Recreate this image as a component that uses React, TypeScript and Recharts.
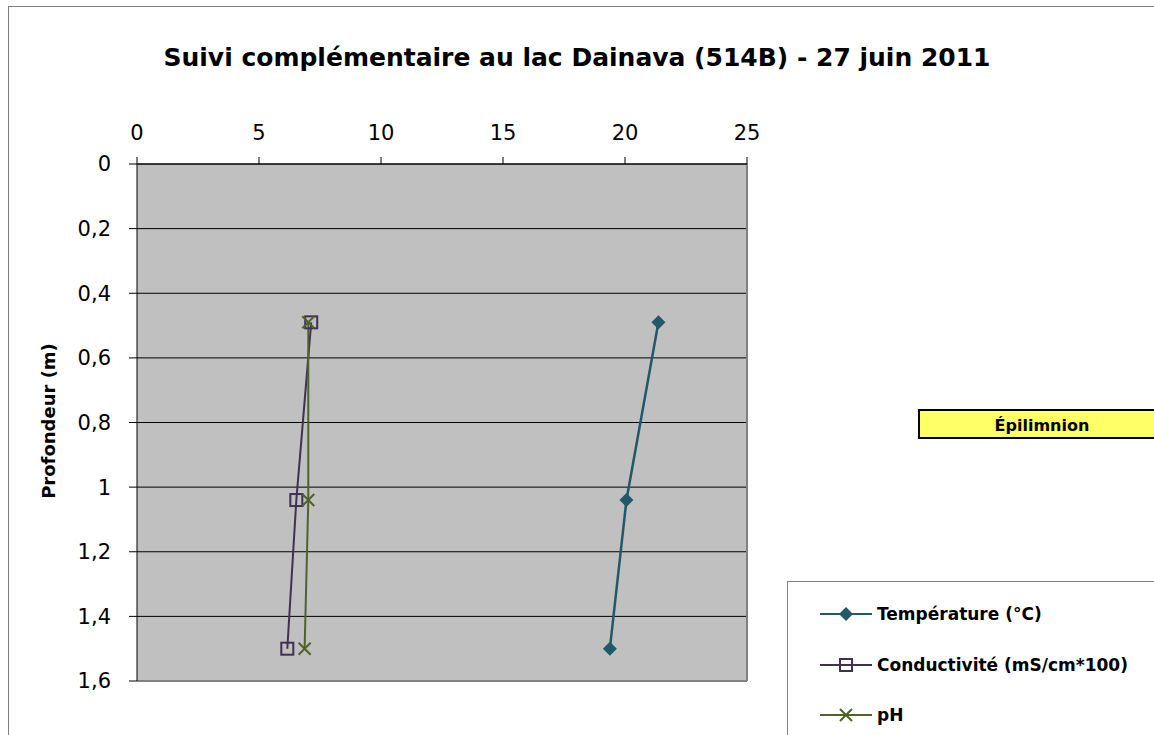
import { LineChart, Line, XAxis, YAxis, CartesianGrid, ReferenceLine } from "recharts"

// Profondeur (m) des mesures
const depths = [0.49, 1.04, 1.5]
// séries
const temperature = [21.37, 20.06, 19.38]
const conductivity = [7.14, 6.53, 6.16]
const ph = [7.02, 7.02, 6.87]
// graduations
const xTicks = [0, 5, 10, 15, 20, 25]
const yTicks = [0, 0.2, 0.4, 0.6, 0.8, 1, 1.2, 1.4, 1.6]

const data = depths.map((d, i) => ({
  depth: d,
  temp: temperature[i],
  cond: conductivity[i],
  ph: ph[i],
}))

const TEMP = "#215968"
const COND = "#403152"
const PH = "#4f6228"
const FONT = "'DejaVu Sans', sans-serif"

const Diamond = ({ cx, cy }: any) => (
  <path d={`M${cx},${cy - 7}L${cx + 7},${cy}L${cx},${cy + 7}L${cx - 7},${cy}Z`} fill={TEMP} />
)
const Square = ({ cx, cy }: any) => (
  <rect x={cx - 6} y={cy - 6} width={12} height={12} fill="none" stroke={COND} strokeWidth={2} />
)
const Cross = ({ cx, cy }: any) => (
  <path d={`M${cx - 6},${cy - 6}L${cx + 6},${cy + 6}M${cx + 6},${cy - 6}L${cx - 6},${cy + 6}`} stroke={PH} strokeWidth={2} />
)

const legendItems = [
  { name: "Température (°C)", color: TEMP, Icon: Diamond },
  { name: "Conductivité (mS/cm*100)", color: COND, Icon: Square },
  { name: "pH", color: PH, Icon: Cross },
]

const tickStyle = { fontSize: 21, fill: "#000", stroke: "none", fontFamily: FONT }

export default function App() {
  return (
    <div
      style={{
        position: "fixed",
        left: 8,
        top: 6,
        width: 1146,
        height: 729,
        borderLeft: "1.5px solid #7f7f7f",
        borderTop: "1.5px solid #7f7f7f",
        overflow: "hidden",
        background: "#fff",
        fontFamily: FONT,
      }}
    >
      <div
        style={{
          position: "absolute",
          left: 0,
          top: 36,
          width: 1136,
          textAlign: "center",
          fontSize: 25,
          fontWeight: "bold",
          color: "#000",
        }}
      >
        Suivi complémentaire au lac Dainava (514B) - 27 juin 2011
      </div>
      <div
        style={{
          position: "absolute",
          left: 39,
          top: 414,
          transform: "translate(-50%, -50%) rotate(-90deg)",
          fontSize: 18,
          fontWeight: "bold",
          whiteSpace: "nowrap",
        }}
      >
        Profondeur (m)
      </div>
      <div style={{ position: "absolute", left: 0, top: 0 }}>
        <LineChart
          width={1146}
          height={729}
          data={data}
          layout="vertical"
          margin={{ top: 117, right: 408, bottom: 55, left: 68 }}
        >
          <CartesianGrid vertical={false} stroke="#000" fill="#c0c0c0" fillOpacity={1} />
          <XAxis
            type="number"
            orientation="top"
            domain={[0, 25]}
            ticks={xTicks}
            height={40}
            tickSize={7}
            tickMargin={17}
            stroke="#000"
            tick={tickStyle}
          />
          <YAxis
            type="number"
            dataKey="depth"
            domain={[0, 1.6]}
            ticks={yTicks}
            width={60}
            tickSize={8}
            tickMargin={18}
            stroke="#000"
            tickFormatter={(v) => String(v).replace(".", ",")}
            tick={tickStyle}
          />
          <ReferenceLine x={25} stroke="#808080" strokeWidth={2} />
          <ReferenceLine y={1.6} stroke="#808080" strokeWidth={2} />
          <Line dataKey="temp" stroke={TEMP} strokeWidth={2.5} dot={<Diamond />} isAnimationActive={false} />
          <Line dataKey="cond" stroke={COND} strokeWidth={2} dot={<Square />} isAnimationActive={false} />
          <Line dataKey="ph" stroke={PH} strokeWidth={2} dot={<Cross />} isAnimationActive={false} />
        </LineChart>
      </div>
      <div
        style={{
          position: "absolute",
          left: 909,
          top: 402,
          width: 250,
          height: 30,
          background: "#ffff66",
          border: "2px solid #000",
          boxSizing: "border-box",
          overflow: "hidden",
        }}
      >
        <div
          style={{
            position: "absolute",
            left: 0,
            width: 244,
            top: 5,
            textAlign: "center",
            fontSize: 16,
            fontWeight: "bold",
          }}
        >
          Épilimnion
        </div>
      </div>
      <div
        style={{
          position: "absolute",
          left: 778,
          top: 574,
          width: 420,
          height: 200,
          background: "#fff",
          border: "1px solid #808080",
        }}
      >
        {legendItems.map((it, i) => (
          <div
            key={it.name}
            style={{ position: "absolute", left: 31, top: 32 + i * 50.5 - 12, display: "flex", alignItems: "center", height: 24 }}
          >
            <svg width={54} height={16}>
              <line x1={1} y1={8} x2={53} y2={8} stroke={it.color} strokeWidth={2} />
              <it.Icon cx={27} cy={8} />
            </svg>
            <span style={{ marginLeft: 4, fontSize: 17, fontWeight: "bold" }}>{it.name}</span>
          </div>
        ))}
      </div>
    </div>
  )
}
